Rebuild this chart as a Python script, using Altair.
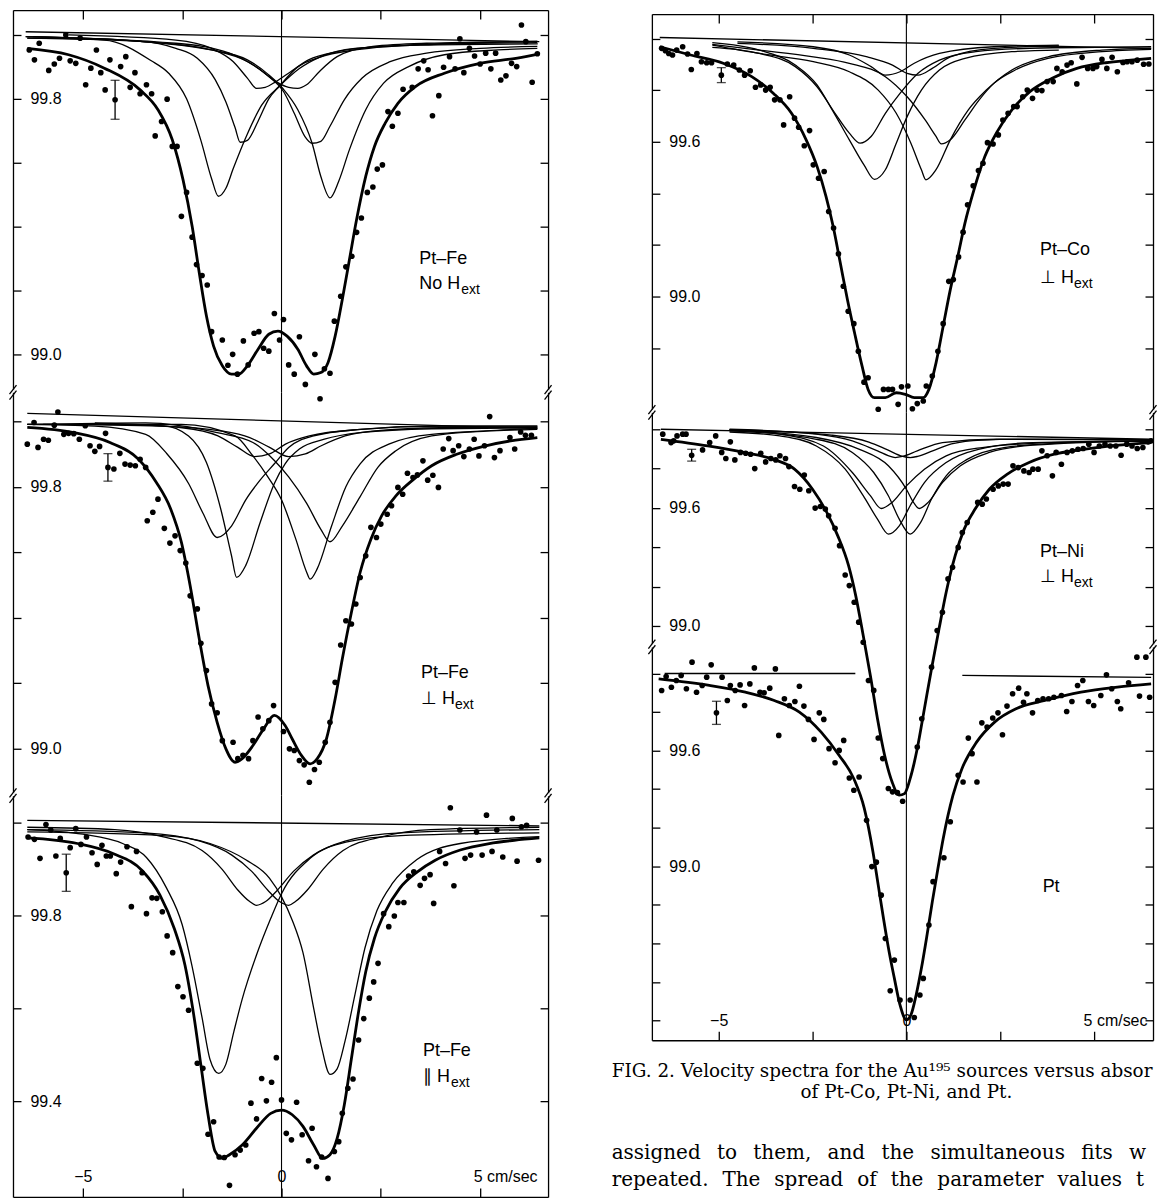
import altair as alt
import pandas as pd

# ---------------- shared axis values ----------------
X_TICKS = [-5, -2.5, 0, 2.5, 5]
X_LABELS = {-5: "−5", 0: "0", 5: "5 cm/sec"}

# ---------------- Pt-Fe, no H_ext (left, top) ----------------
FE0_DOTS = [(-6.35,99.953),(-6.22,99.922),(-6.10,99.974),(-5.86,99.889),(-5.72,99.909),(-5.59,99.927),(-5.43,100.0),(-5.32,99.919),(-5.18,99.911),(-5.07,99.990),(-4.93,99.844),(-4.80,99.896),(-4.66,99.953),(-4.55,99.882),(-4.44,99.828),(-4.32,99.922),(-4.05,99.901),(-3.92,99.932),(-3.81,99.836),(-3.69,99.882),(-3.56,99.816),(-3.40,99.844),(-3.27,99.816),(-3.18,99.684),(-3.02,99.729),(-2.88,99.799),(-2.75,99.651),(-2.63,99.651),(-2.52,99.432),(-2.39,99.507),(-2.25,99.367),(-2.14,99.281),(-2.00,99.247),(-1.87,99.217),(-1.76,99.071),(-1.49,99.045),(-1.35,98.966),(-1.23,99.000),(-1.11,98.938),(-0.96,99.042),(-0.84,98.967),(-0.69,99.066),(-0.57,99.071),(-0.45,99.019),(-0.32,99.010),(-0.18,99.128),(-0.05,99.045),(0.05,99.109),(0.18,98.967),(0.32,98.938),(0.45,99.055),(0.60,98.906),(0.84,99.000),(0.97,98.861),(1.08,98.955),(1.22,98.941),(1.33,99.104),(1.49,99.182),(1.62,99.274),(1.77,99.307),(1.89,99.382),(2.01,99.427),(2.16,99.507),(2.30,99.524),(2.41,99.580),(2.54,99.593),(2.68,99.760),(2.79,99.714),(2.93,99.755),(3.06,99.830),(3.29,99.836),(3.44,99.894),(3.58,99.919),(3.69,99.891),(3.80,99.747),(3.96,99.810),(4.08,99.899),(4.23,99.932),(4.37,99.894),(4.49,99.988),(4.59,99.882),(4.73,99.958),(4.86,99.934),(5.00,99.909),(5.14,99.943),(5.27,99.894),(5.39,99.943),(5.52,99.859),(5.65,99.872),(5.79,99.911),(5.92,99.901),(6.04,100.031),(6.15,99.979),(6.31,99.852),(6.44,99.941)]
FE0_FIT = [(-6.40,99.958),(-5.36,99.938),(-4.46,99.896),(-3.56,99.828),(-3.11,99.766),(-2.75,99.672),(-2.48,99.547),(-2.25,99.401),(-2.07,99.255),(-1.89,99.120),(-1.71,99.026),(-1.49,98.964),(-1.26,98.938),(-1.08,98.938),(-0.86,98.964),(-0.59,99.016),(-0.32,99.063),(-0.09,99.073),(0.14,99.057),(0.41,99.016),(0.63,98.964),(0.81,98.938),(0.99,98.943),(1.17,98.974),(1.35,99.057),(1.53,99.172),(1.71,99.297),(1.89,99.422),(2.12,99.557),(2.34,99.651),(2.61,99.724),(2.93,99.786),(3.38,99.839),(4.10,99.880),(5.00,99.911),(5.90,99.927),(6.49,99.941)]
FE0_A_L = [(-6.40,99.990),(-4.46,99.984),(-3.29,99.920),(-2.84,99.880),(-2.39,99.800),(-2.03,99.670),(-1.76,99.550),(-1.59,99.495),(-1.40,99.520),(-1.22,99.580),(-0.86,99.690),(-0.50,99.780),(-0.05,99.840),(0.45,99.895),(0.95,99.930),(1.85,99.958),(3.50,99.968),(6.45,99.972)]
FE0_B_L = [(-6.40,99.990),(-3.56,99.980),(-2.66,99.958),(-2.12,99.927),(-1.67,99.860),(-1.40,99.790),(-1.17,99.710),(-1.04,99.664),(-0.86,99.670),(-0.59,99.730),(-0.32,99.800),(-0.05,99.840),(0.41,99.900),(0.95,99.930),(1.85,99.953),(3.65,99.970),(6.44,99.976)]
FE0_C_L = [(-5.36,100.0),(-2.66,99.984),(-1.76,99.958),(-1.22,99.917),(-0.86,99.865),(-0.63,99.833),(-0.41,99.836),(-0.14,99.854),(0.23,99.885),(0.68,99.922),(1.40,99.948),(2.75,99.966),(6.44,99.980)]
FE0_C_R = [(-6.44,99.995),(-2.66,99.974),(-1.31,99.943),(-0.59,99.896),(-0.14,99.854),(0.18,99.836),(0.41,99.833),(0.63,99.844),(0.95,99.885),(1.40,99.932),(2.30,99.964),(3.65,99.974),(6.44,99.980)]
FE0_B_R = [(-6.44,99.995),(-3.56,99.980),(-1.76,99.953),(-0.86,99.917),(-0.32,99.870),(0.05,99.823),(0.32,99.755),(0.59,99.682),(0.77,99.661),(0.99,99.667),(1.22,99.714),(1.58,99.797),(2.03,99.865),(2.75,99.917),(3.65,99.943),(5.00,99.958),(6.44,99.964)]
FE0_A_R = [(-6.26,99.995),(-3.56,99.980),(-1.76,99.953),(-0.86,99.922),(-0.32,99.875),(0.05,99.830),(0.41,99.766),(0.77,99.661),(0.99,99.557),(1.22,99.490),(1.44,99.542),(1.71,99.641),(2.12,99.766),(2.57,99.849),(3.20,99.901),(4.10,99.938),(5.45,99.953),(6.44,99.958)]
FE0_BASE = [(-6.44,100.010),(6.49,99.979)]
FE0_ERR = (-4.19, 99.797, 0.061)

# ---------------- Pt-Fe, perpendicular H_ext (left, middle) ----------------
FE1_DOTS = [(-6.40,99.930),(-6.23,99.996),(-6.13,99.920),(-5.99,99.945),(-5.87,99.942),(-5.72,99.988),(-5.63,100.028),(-5.48,99.960),(-5.36,99.963),(-5.23,99.962),(-5.09,99.945),(-4.94,99.986),(-4.82,99.925),(-4.70,99.908),(-4.58,99.923),(-4.43,99.963),(-4.22,99.854),(-4.07,99.902),(-3.94,99.869),(-3.81,99.866),(-3.68,99.864),(-3.56,99.884),(-3.42,99.859),(-3.38,99.696),(-3.24,99.722),(-3.11,99.762),(-2.95,99.673),(-2.81,99.628),(-2.68,99.650),(-2.55,99.605),(-2.41,99.567),(-2.30,99.467),(-2.12,99.427),(-2.03,99.322),(-1.89,99.239),(-1.76,99.137),(-1.62,99.110),(-1.49,99.025),(-1.22,99.020),(-1.10,98.970),(-0.97,98.980),(-0.83,98.970),(-0.72,99.025),(-0.59,99.097),(-0.47,99.061),(-0.32,99.086),(-0.20,99.132),(0.05,99.053),(0.20,99.000),(0.32,98.995),(0.45,98.964),(0.57,98.951),(0.70,98.898),(0.83,98.937),(0.95,98.959),(1.10,99.020),(1.22,99.081),(1.35,99.203),(1.49,99.317),(1.62,99.391),(1.76,99.381),(1.87,99.442),(1.98,99.523),(2.12,99.589),(2.25,99.676),(2.39,99.645),(2.50,99.686),(2.66,99.716),(2.77,99.742),(2.93,99.798),(3.05,99.777),(3.17,99.841),(3.31,99.828),(3.42,99.836),(3.56,99.879),(3.68,99.820),(3.81,99.835),(3.95,99.798),(4.07,99.915),(4.21,99.947),(4.32,99.910),(4.46,99.925),(4.59,99.892),(4.73,99.915),(4.85,99.945),(4.97,99.894),(5.11,99.925),(5.24,100.014),(5.36,99.889),(5.50,99.910),(5.75,99.950),(5.87,99.915),(6.02,99.967),(6.14,99.957),(6.29,99.957)]
FE1_FIT = [(-6.40,99.981),(-5.23,99.965),(-4.32,99.935),(-3.60,99.884),(-3.15,99.813),(-2.79,99.732),(-2.52,99.630),(-2.30,99.498),(-2.07,99.335),(-1.85,99.193),(-1.62,99.081),(-1.40,99.000),(-1.17,98.959),(-0.99,98.970),(-0.72,99.010),(-0.45,99.061),(-0.18,99.102),(0.09,99.071),(0.27,99.030),(0.50,98.980),(0.72,98.954),(0.90,98.970),(1.13,99.030),(1.35,99.152),(1.53,99.274),(1.76,99.417),(1.98,99.539),(2.25,99.640),(2.52,99.711),(2.88,99.772),(3.33,99.823),(3.78,99.864),(4.41,99.899),(5.14,99.925),(5.77,99.940),(6.44,99.950)]
FE1_W_L = [(-6.40,99.990),(-4.70,99.985),(-3.42,99.960),(-2.88,99.900),(-2.34,99.810),(-1.98,99.720),(-1.62,99.645),(-1.26,99.680),(-0.90,99.760),(-0.54,99.820),(-0.18,99.870),(0.18,99.920),(0.81,99.955),(1.98,99.975),(3.78,99.985),(6.44,99.985)]
FE1_D_L = [(-4.70,99.990),(-2.97,99.986),(-2.34,99.955),(-1.89,99.874),(-1.53,99.732),(-1.26,99.590),(-1.13,99.523),(-0.90,99.560),(-0.54,99.690),(-0.18,99.810),(0.09,99.870),(0.45,99.915),(1.08,99.945),(1.98,99.965),(3.78,99.977),(6.44,99.980)]
FE1_D_R = [(-6.40,99.990),(-2.52,99.990),(-1.17,99.955),(-0.72,99.894),(-0.36,99.833),(0.00,99.760),(0.36,99.640),(0.63,99.540),(0.72,99.518),(0.90,99.550),(1.26,99.680),(1.62,99.800),(1.98,99.870),(2.70,99.930),(3.78,99.960),(6.44,99.975)]
FE1_W_R = [(-6.40,99.990),(-3.42,99.995),(-1.62,99.965),(-0.72,99.935),(-0.18,99.880),(0.18,99.830),(0.63,99.750),(0.99,99.670),(1.22,99.632),(1.53,99.680),(1.98,99.770),(2.43,99.860),(2.88,99.910),(3.78,99.955),(5.14,99.970),(6.44,99.978)]
FE1_S_L = [(-4.70,99.995),(-2.50,99.980),(-1.60,99.955),(-1.10,99.920),(-0.68,99.892),(-0.30,99.900),(0.10,99.930),(0.70,99.955),(2.00,99.975),(4.00,99.985),(6.44,99.985)]
FE1_S_R = [(-6.00,99.990),(-3.00,99.985),(-1.50,99.970),(-0.80,99.950),(-0.30,99.920),(0.18,99.892),(0.60,99.900),(1.00,99.925),(1.60,99.955),(2.50,99.972),(4.00,99.980),(6.44,99.982)]
FE1_BASE = [(-6.40,100.024),(6.44,99.978)]
FE1_ERR = (-4.37, 99.859, 0.042)

# ---------------- Pt-Fe, parallel H_ext (left, bottom) ----------------
FE2_DOTS = [(-6.38,99.969),(-6.22,99.964),(-6.08,99.923),(-5.93,99.996),(-5.81,99.984),(-5.68,99.928),(-5.57,99.966),(-5.32,99.946),(-5.18,99.987),(-5.05,99.953),(-4.91,99.969),(-4.77,99.935),(-4.64,99.910),(-4.52,99.951),(-4.41,99.928),(-4.31,99.928),(-4.16,99.890),(-4.05,99.915),(-3.89,99.948),(-3.78,99.819),(-3.65,99.938),(-3.51,99.892),(-3.40,99.804),(-3.26,99.838),(-3.14,99.837),(-3.00,99.808),(-2.88,99.756),(-2.74,99.720),(-2.61,99.647),(-2.48,99.625),(-2.34,99.596),(-2.12,99.482),(-1.98,99.471),(-1.85,99.329),(-1.71,99.356),(-1.57,99.280),(-1.44,99.279),(-1.31,99.219),(-1.17,99.285),(-1.04,99.295),(-0.90,99.306),(-0.77,99.396),(-0.63,99.362),(-0.50,99.449),(-0.38,99.401),(-0.25,99.441),(-0.13,99.494),(0.00,99.403),(0.12,99.331),(0.25,99.317),(0.38,99.398),(0.52,99.328),(0.68,99.272),(0.77,99.342),(0.88,99.259),(1.01,99.280),(1.17,99.234),(1.33,99.292),(1.44,99.313),(1.53,99.374),(1.67,99.428),(1.80,99.448),(1.94,99.532),(2.07,99.578),(2.21,99.622),(2.32,99.657),(2.43,99.697),(2.57,99.804),(2.70,99.776),(2.84,99.799),(2.93,99.828),(3.08,99.828),(3.20,99.885),(3.33,99.894),(3.49,99.865),(3.60,99.880),(3.74,99.888),(3.83,99.826),(3.98,99.938),(4.13,99.912),(4.25,100.032),(4.34,99.864),(4.49,99.984),(4.62,99.923),(4.76,99.930),(4.91,99.980),(5.05,99.930),(5.16,100.016),(5.30,99.938),(5.42,99.984),(5.57,99.926),(5.81,100.009),(5.93,99.917),(6.04,99.991),(6.17,99.994),(6.47,99.919)]
FE2_FIT = [(-6.40,99.967),(-5.14,99.955),(-4.23,99.933),(-3.51,99.897),(-3.06,99.844),(-2.70,99.772),(-2.43,99.693),(-2.21,99.586),(-2.03,99.478),(-1.85,99.371),(-1.67,99.292),(-1.49,99.277),(-1.31,99.285),(-0.99,99.306),(-0.63,99.342),(-0.27,99.374),(0.00,99.381),(0.27,99.371),(0.54,99.346),(0.81,99.306),(1.04,99.277),(1.22,99.285),(1.40,99.320),(1.58,99.392),(1.76,99.492),(1.94,99.593),(2.12,99.679),(2.34,99.751),(2.61,99.808),(2.97,99.858),(3.42,99.894),(3.87,99.919),(4.50,99.941),(5.23,99.955),(5.86,99.962),(6.49,99.967)]
FE2_A_L = [(-6.40,99.985),(-5.00,99.975),(-4.00,99.955),(-3.40,99.925),(-2.90,99.860),(-2.50,99.780),(-2.25,99.690),(-2.00,99.580),(-1.80,99.490),(-1.58,99.460),(-1.40,99.480),(-1.20,99.550),(-0.99,99.620),(-0.63,99.715),(-0.27,99.794),(0.00,99.847),(0.72,99.923),(1.62,99.958),(3.00,99.972),(6.49,99.978)]
FE2_A_R = [(-6.40,99.980),(-3.00,99.972),(-1.80,99.955),(-0.90,99.920),(-0.30,99.880),(0.00,99.840),(0.27,99.790),(0.54,99.720),(0.81,99.600),(1.00,99.520),(1.22,99.458),(1.40,99.470),(1.60,99.530),(1.85,99.630),(2.10,99.730),(2.40,99.810),(2.80,99.870),(3.40,99.920),(4.50,99.955),(6.49,99.970)]
FE2_B_L = [(-6.40,99.990),(-4.20,99.985),(-3.00,99.970),(-2.00,99.940),(-1.50,99.900),(-1.10,99.855),(-0.80,99.830),(-0.63,99.822),(-0.40,99.830),(-0.10,99.855),(0.30,99.895),(0.80,99.930),(1.60,99.960),(3.00,99.978),(6.49,99.985)]
FE2_B_R = [(-6.40,99.985),(-3.45,99.978),(-2.05,99.960),(-1.25,99.930),(-0.75,99.895),(-0.35,99.855),(-0.05,99.830),(0.18,99.822),(0.35,99.830),(0.65,99.855),(1.05,99.900),(1.55,99.940),(2.55,99.970),(3.75,99.985),(6.49,99.990)]
FE2_BASE = [(-6.40,100.005),(6.49,99.993)]
FE2_ERR = (-5.42, 99.892, 0.040)

# ---------------- Pt-Co, perpendicular H_ext (right, top) ----------------
CO_DOTS = [(-6.52,99.963),(-6.42,99.954),(-6.33,99.943),(-6.23,99.937),(-6.12,99.956),(-5.96,99.969),(-5.83,99.941),(-5.73,99.881),(-5.58,99.943),(-5.46,99.911),(-5.32,99.907),(-5.19,99.907),(-4.77,99.902),(-4.60,99.898),(-4.45,99.879),(-4.31,99.859),(-4.16,99.876),(-4.02,99.812),(-3.88,99.821),(-3.75,99.801),(-3.63,99.812),(-3.51,99.763),(-3.37,99.763),(-3.27,99.666),(-3.11,99.775),(-2.98,99.692),(-2.87,99.657),(-2.72,99.585),(-2.58,99.644),(-2.48,99.511),(-2.34,99.459),(-2.19,99.485),(-2.07,99.330),(-1.94,99.266),(-1.81,99.166),(-1.68,99.040),(-1.55,98.943),(-1.40,98.895),(-1.28,98.788),(-1.13,98.668),(-1.02,98.685),(-0.75,98.563),(-0.61,98.640),(-0.48,98.640),(-0.37,98.640),(-0.22,98.582),(-0.13,98.650),(0.04,98.653),(0.16,98.565),(0.29,98.585),(0.45,98.595),(0.53,98.653),(0.69,98.692),(0.84,98.788),(0.98,98.895),(1.13,99.059),(1.25,99.066),(1.39,99.154),(1.51,99.250),(1.63,99.356),(1.78,99.430),(1.92,99.489),(2.04,99.517),(2.16,99.597),(2.31,99.592),(2.45,99.627),(2.57,99.685),(2.71,99.711),(2.86,99.737),(2.95,99.737),(3.10,99.775),(3.22,99.801),(3.36,99.769),(3.48,99.801),(3.61,99.799),(3.75,99.834),(3.91,99.834),(4.01,99.885),(4.15,99.872),(4.28,99.898),(4.39,99.907),(4.54,99.825),(4.68,99.928),(4.83,99.885),(4.97,99.885),(5.07,99.892),(5.21,99.920),(5.34,99.885),(5.48,99.928),(5.62,99.872),(5.77,99.908),(5.88,99.911),(6.01,99.911),(6.15,99.917),(6.32,99.901),(6.46,99.902)]
CO_FIT = [(-6.57,99.969),(-5.75,99.937),(-4.88,99.905),(-4.12,99.853),(-3.54,99.788),(-3.06,99.711),(-2.67,99.608),(-2.38,99.505),(-2.14,99.388),(-1.95,99.272),(-1.76,99.130),(-1.57,98.988),(-1.38,98.859),(-1.18,98.730),(-1.02,98.640),(-0.85,98.608),(-0.56,98.608),(-0.27,98.627),(-0.03,98.621),(0.21,98.608),(0.45,98.608),(0.60,98.640),(0.79,98.743),(0.98,98.885),(1.17,99.027),(1.37,99.156),(1.56,99.285),(1.80,99.414),(2.09,99.543),(2.42,99.640),(2.81,99.724),(3.29,99.795),(3.87,99.846),(4.54,99.885),(5.31,99.907),(5.98,99.917),(6.52,99.924)]
CO_A_L = [(-5.17,99.985),(-3.92,99.956),(-2.96,99.898),(-2.38,99.821),(-2.00,99.730),(-1.52,99.608),(-1.13,99.511),(-0.85,99.455),(-0.56,99.492),(-0.27,99.595),(0.02,99.698),(0.40,99.801),(0.88,99.879),(1.56,99.924),(2.81,99.950),(4.06,99.956)]
CO_B_L = [(-5.17,99.967),(-3.92,99.943),(-2.96,99.892),(-2.38,99.814),(-1.90,99.711),(-1.52,99.634),(-1.23,99.595),(-0.94,99.621),(-0.56,99.711),(-0.17,99.788),(0.31,99.866),(0.88,99.917),(1.85,99.950),(3.29,99.963),(6.52,99.969)]
CO_A_R = [(-5.17,99.975),(-3.92,99.943),(-2.48,99.911),(-1.52,99.872),(-0.75,99.801),(-0.27,99.711),(0.12,99.595),(0.40,99.492),(0.52,99.453),(0.79,99.492),(1.17,99.608),(1.65,99.724),(2.13,99.801),(2.81,99.879),(3.77,99.930),(5.21,99.956),(6.52,99.963)]
CO_B_R = [(-5.17,99.978),(-3.92,99.956),(-2.48,99.930),(-1.52,99.905),(-0.56,99.853),(0.02,99.775),(0.50,99.685),(0.79,99.621),(0.93,99.592),(1.17,99.608),(1.56,99.685),(1.94,99.763),(2.33,99.827),(2.90,99.879),(3.77,99.924),(5.21,99.950),(6.52,99.959)]
CO_C_L = [(-4.50,99.988),(-2.48,99.969),(-1.52,99.937),(-0.94,99.892),(-0.56,99.859),(-0.17,99.872),(0.21,99.905),(0.88,99.943),(2.33,99.969),(4.06,99.975)]
CO_C_R = [(-4.50,99.982),(-2.48,99.963),(-1.04,99.930),(-0.37,99.898),(0.02,99.866),(0.31,99.859),(0.69,99.885),(1.17,99.930),(2.33,99.963),(4.06,99.972)]
CO_BASE = [(-6.57,100.005),(6.52,99.963)]
CO_ERR = (-4.93, 99.859, 0.029)

# ---------------- Pt-Ni, perpendicular H_ext (right, middle) ----------------
NI_DOTS = [(-6.49,99.975),(-6.27,99.932),(-6.20,99.941),(-6.11,99.966),(-5.96,99.975),(-5.87,99.975),(-5.43,99.895),(-5.24,99.932),(-5.08,99.966),(-4.92,99.882),(-4.81,99.851),(-4.69,99.936),(-4.57,99.844),(-4.42,99.882),(-4.28,99.878),(-4.15,99.873),(-4.04,99.800),(-3.88,99.878),(-3.75,99.834),(-3.61,99.851),(-3.48,99.844),(-3.37,99.865),(-3.22,99.851),(-3.13,99.810),(-2.98,99.709),(-2.84,99.695),(-2.72,99.767),(-2.60,99.687),(-2.43,99.599),(-2.29,99.607),(-2.16,99.594),(-2.07,99.560),(-1.90,99.496),(-1.78,99.408),(-1.63,99.259),(-1.52,99.205),(-1.39,99.120),(-1.27,99.019),(-1.15,98.917),(-1.01,98.722),(-0.87,98.672),(-0.75,98.430),(-0.63,98.325),(-0.48,98.173),(-0.37,98.156),(-0.24,98.152),(-0.10,98.108),(0.29,98.384),(0.41,98.528),(0.67,98.790),(0.82,98.976),(0.96,99.069),(1.11,99.239),(1.23,99.298),(1.38,99.399),(1.49,99.475),(1.62,99.526),(1.90,99.628),(2.02,99.619),(2.13,99.645),(2.31,99.695),(2.45,99.712),(2.58,99.721),(2.71,99.721),(2.84,99.814),(2.98,99.805),(3.13,99.788),(3.27,99.780),(3.37,99.797),(3.51,99.797),(3.61,99.890),(3.75,99.865),(3.89,99.763),(3.99,99.882),(4.13,99.822),(4.28,99.882),(4.42,99.890),(4.57,99.898),(4.71,99.902),(4.86,99.924),(5.00,99.882),(5.14,99.915),(5.29,99.924),(5.43,99.915),(5.58,99.915),(5.72,99.868),(5.87,99.924),(6.01,99.915),(6.15,99.902),(6.30,99.907),(6.44,99.936),(6.52,99.941)]
NI_FIT = [(-6.54,99.949),(-5.29,99.915),(-4.33,99.882),(-3.56,99.848),(-2.98,99.797),(-2.50,99.695),(-2.12,99.577),(-1.83,99.459),(-1.54,99.306),(-1.35,99.154),(-1.15,98.951),(-0.96,98.748),(-0.77,98.528),(-0.58,98.342),(-0.38,98.206),(-0.19,98.139),(-0.05,98.147),(0.10,98.223),(0.29,98.376),(0.48,98.579),(0.67,98.782),(0.87,98.985),(1.06,99.171),(1.30,99.357),(1.54,99.492),(1.83,99.594),(2.21,99.695),(2.69,99.772),(3.27,99.831),(3.94,99.873),(4.62,99.895),(5.29,99.912),(5.96,99.924),(6.52,99.932)]
NI_D_L = [(-4.71,99.986),(-3.37,99.966),(-2.40,99.915),(-1.63,99.797),(-1.15,99.662),(-0.77,99.543),(-0.48,99.467),(-0.19,99.509),(0.10,99.611),(0.48,99.729),(1.06,99.831),(1.92,99.898),(3.37,99.932),(6.52,99.941)]
NI_D_R = [(-4.71,99.992),(-2.40,99.949),(-1.44,99.882),(-0.87,99.780),(-0.48,99.662),(-0.19,99.543),(0.10,99.467),(0.38,99.526),(0.67,99.645),(1.06,99.763),(1.63,99.848),(2.60,99.907),(4.33,99.932),(6.52,99.941)]
NI_M_L = [(-4.71,99.997),(-3.37,99.975),(-2.21,99.915),(-1.44,99.780),(-0.96,99.662),(-0.67,99.597),(-0.38,99.628),(0.00,99.712),(0.48,99.797),(1.06,99.865),(2.02,99.907),(3.85,99.932),(6.52,99.941)]
NI_M_R = [(-4.71,99.997),(-2.40,99.958),(-1.25,99.898),(-0.48,99.814),(0.00,99.695),(0.19,99.628),(0.34,99.597),(0.58,99.628),(0.96,99.729),(1.44,99.814),(2.21,99.882),(3.37,99.919),(6.52,99.941)]
NI_S_L = [(-4.71,100.0),(-2.40,99.975),(-1.44,99.941),(-0.77,99.890),(-0.38,99.859),(-0.30,99.856),(-0.10,99.862),(0.29,99.890),(0.96,99.932),(2.40,99.949),(6.52,99.946)]
NI_S_R = [(-4.71,99.998),(-2.00,99.970),(-1.00,99.935),(-0.50,99.895),(-0.10,99.862),(0.10,99.856),(0.30,99.862),(0.70,99.890),(1.20,99.925),(2.00,99.945),(3.50,99.950),(6.52,99.946)]
NI_BASE = [(-6.54,100.0),(6.52,99.949)]
NI_ERR = (-5.72, 99.868, 0.030)

# ---------------- Pt (right, bottom) ----------------
PT_DOTS = [(-6.52,99.912),(-6.40,99.984),(-6.26,99.929),(-6.13,99.964),(-6.00,99.990),(-5.86,99.921),(-5.71,100.059),(-5.59,99.903),(-5.44,99.938),(-5.32,99.981),(-5.20,100.045),(-4.91,99.981),(-4.77,99.860),(-4.69,99.938),(-4.56,99.912),(-4.43,99.941),(-4.31,99.834),(-4.17,99.946),(-4.05,100.029),(-3.90,99.903),(-3.79,99.900),(-3.64,99.924),(-3.49,100.024),(-3.40,99.679),(-3.25,99.869),(-3.12,99.834),(-2.97,99.855),(-2.85,99.934),(-2.73,99.831),(-2.61,99.762),(-2.46,99.658),(-2.32,99.796),(-2.20,99.762),(-2.06,99.610),(-1.90,99.537),(-1.79,99.601),(-1.67,99.653),(-1.52,99.458),(-1.40,99.394),(-1.26,99.463),(-1.06,99.238),(-0.92,98.998),(-0.80,99.021),(-0.67,98.850),(-0.56,98.625),(-0.43,98.354),(-0.32,98.513),(-0.17,98.306),(0.10,98.306),(0.21,98.215),(0.36,98.332),(0.45,98.418),(0.60,98.695),(0.71,98.920),(1.00,99.044),(1.17,99.231),(1.38,99.472),(1.51,99.437),(1.65,99.665),(1.75,99.584),(1.88,99.437),(2.01,99.744),(2.15,99.722),(2.30,99.769),(2.44,99.796),(2.56,99.682),(2.68,99.831),(2.83,99.895),(2.99,99.924),(3.12,99.851),(3.21,99.895),(3.36,99.796),(3.50,99.860),(3.64,99.869),(3.79,99.869),(3.93,99.877),(4.13,99.886),(4.27,99.803),(4.41,99.855),(4.56,99.938),(4.70,99.964),(4.85,99.855),(4.99,99.834),(5.18,99.886),(5.33,99.993),(5.47,99.921),(5.62,99.855),(5.71,99.817),(5.92,99.952),(6.14,100.085),(6.21,99.883),(6.38,100.085),(6.48,99.877)]
PT_FIT = [(-6.60,99.972),(-5.25,99.938),(-4.29,99.903),(-3.52,99.860),(-2.85,99.800),(-2.27,99.696),(-1.79,99.575),(-1.40,99.454),(-1.12,99.299),(-0.89,99.074),(-0.75,98.902),(-0.61,98.729),(-0.46,98.556),(-0.32,98.418),(-0.17,98.280),(0.00,98.203),(0.12,98.228),(0.26,98.332),(0.40,98.470),(0.55,98.643),(0.69,98.815),(0.84,98.988),(0.98,99.143),(1.24,99.368),(1.48,99.506),(1.87,99.644),(2.35,99.748),(2.92,99.817),(3.69,99.860),(4.65,99.903),(5.62,99.929),(6.52,99.946)]
PT_BASE_L = [(-6.44,100.0),(-1.36,100.0)]
PT_BASE_R = [(1.49,99.990),(6.52,99.980)]
PT_ERR = (-5.06, 99.796, 0.060)

# ---------------- text ----------------
CAPTION_1 = "FIG. 2. Velocity spectra for the Au¹⁹⁵ sources versus absor"
CAPTION_2 = "of Pt-Co, Pt-Ni, and Pt."
BODY_1 = "assigned\u2002 to\u2002 them,\u2002 and\u2002 the\u2002 simultaneous\u2002 fits\u2002 w"
BODY_2 = "repeated.\u2002\u2009The\u2002\u2009spread\u2002\u2009of\u2002\u2009the\u2002\u2009parameter\u2002\u2009values\u2002\u2009t"

# ---------------- layout constants ----------------
LEFT_W, RIGHT_W = 536, 502
LEFT_X, RIGHT_X = [-6.76, 6.71], [-6.78, 6.57]
TEXT_X = -7.85          # left start of caption/body lines, in the right column's velocity units
BRK_A = 3.5             # half-width (px) of the axis-break slashes


def pts_df(pairs):
    return pd.DataFrame(pairs, columns=["v", "p"])


def curves_df(curves):
    rows = []
    for i, c in enumerate(curves):
        for v, p in c:
            rows.append({"v": v, "p": p, "c": i})
    return pd.DataFrame(rows, columns=["v", "p", "c"])


def label_expr(mapping):
    expr = "''"
    for k, t in reversed(list(mapping.items())):
        expr = f"abs(datum.value - ({k})) < 0.001 ? '{t}' : {expr}"
    return expr


def panel(W, H, xdom, ydom, dots, fit, comps, bases, err, yticks, ylabels,
          lab, xaxis_mode=None, breaks=False, unit_shift=-5):
    xs = alt.Scale(domain=xdom, nice=False, zero=False)
    ys = alt.Scale(domain=ydom, nice=False, zero=False)

    if xaxis_mode == "top":
        xaxis = alt.Axis(orient="bottom", offset=-H, values=X_TICKS, labels=False,
                         tickSize=9, domain=True, grid=False, title=None)
    elif xaxis_mode == "bottom":
        xaxis = alt.Axis(orient="top", offset=-H, values=X_TICKS,
                         labelExpr=label_expr(X_LABELS), labelPadding=3, tickSize=9,
                         labelFlush=False, labelOverlap=False,
                         labelAlign={"condition": {"test": "datum.value == 5", "value": "left"}, "value": "center"},
                         labelOffset={"condition": {"test": "datum.value == 5", "value": unit_shift}, "value": 0},
                         domain=True, grid=False, title=None)
    else:
        xaxis = None

    # the shared x axis is given identically to every layer so that it is kept
    def X(field="v"):
        return alt.X(f"{field}:Q", scale=xs, axis=xaxis, title=None)

    def Y(field="p", axis=None):
        return alt.Y(f"{field}:Q", scale=ys, axis=axis, title=None)

    y_main = alt.Axis(orient="right", offset=-W, values=yticks, labelExpr=label_expr(ylabels),
                      tickSize=8, labelPadding=9, domain=True, grid=False,
                      labelOverlap=False, labelFlush=False, labelAlign="left")
    y_mirror = alt.Axis(orient="left", offset=-W, values=yticks, labels=False,
                        tickSize=8, domain=True, grid=False)

    layers = []
    layers.append(alt.Chart(pd.DataFrame({"v": [0.0]})).mark_rule(color="black", strokeWidth=1.1)
                  .encode(x=X()))
    layers.append(alt.Chart(curves_df(bases)).mark_line(color="black", strokeWidth=1.3)
                  .encode(x=X(), y=Y(), detail="c:N"))
    if comps:
        layers.append(alt.Chart(curves_df(comps)).mark_line(color="black", strokeWidth=1.3, interpolate="monotone")
                      .encode(x=X(), y=Y(), detail="c:N"))
    layers.append(alt.Chart(pts_df(fit)).mark_line(color="black", strokeWidth=2.8, interpolate="monotone")
                  .encode(x=X(), y=Y(axis=y_mirror)))
    layers.append(alt.Chart(pts_df(dots + [err[:2]])).mark_circle(color="black", size=32, opacity=1)
                  .encode(x=X(), y=Y(axis=y_main)))
    ev, ep, eh = err
    err_df = pd.DataFrame({"v": [ev], "lo": [ep - eh], "hi": [ep + eh]})
    layers.append(alt.Chart(err_df).mark_rule(color="black", strokeWidth=1.3)
                  .encode(x=X(), y=Y("lo"), y2=alt.Y2("hi")))
    cap_df = pd.DataFrame({"v": [ev, ev], "p": [ep - eh, ep + eh]})
    layers.append(alt.Chart(cap_df).mark_tick(color="black", orient="horizontal", size=9, thickness=1.3)
                  .encode(x=X(), y=Y()))

    # panel label
    t1, t2, lv, lp1, lp2, sub_dx = lab
    texts = pd.DataFrame({"v": [lv] + ([lv] if t2 else []),
                          "p": [lp1] + ([lp2] if t2 else []),
                          "t": [t1] + ([t2] if t2 else [])})
    layers.append(alt.Chart(texts).mark_text(align="left", baseline="middle", font="Liberation Sans",
                                             fontSize=18, color="black")
                  .encode(x=X(), y=Y(), text="t:N"))
    if t2:
        layers.append(alt.Chart(pd.DataFrame({"v": [lv], "p": [lp2], "t": ["ext"]}))
                      .mark_text(align="left", baseline="middle", font="Liberation Sans", fontSize=14,
                                 color="black", dx=sub_dx, dy=6)
                      .encode(x=X(), y=Y(), text="t:N"))
    if breaks:
        # axis-break marks "//" across both frame edges at the bottom of this panel
        kx = W / (xdom[1] - xdom[0])
        ky = H / (ydom[1] - ydom[0])
        a, b, g = BRK_A / kx, 4.5 / ky, 2.8 / ky
        gap_df = pd.DataFrame({"v": list(xdom), "lo": [ydom[0] - g] * 2, "hi": [ydom[0] + g] * 2})
        layers.append(alt.Chart(gap_df).mark_rule(color="white", strokeWidth=3)
                      .encode(x=X(), y=Y("lo"), y2=alt.Y2("hi")))
        rows = []
        for x0 in xdom:
            for s in (-1, 1):
                yc = ydom[0] + s * g
                rows.append({"v": x0 - a, "p": yc - b, "v2": x0 + a, "p2": yc + b})
        layers.append(alt.Chart(pd.DataFrame(rows)).mark_rule(color="black", strokeWidth=1.3)
                      .encode(x=X(), y=Y(), x2=alt.X2("v2"), y2=alt.Y2("p2")))
    return alt.layer(*layers).resolve_scale(y="independent").properties(width=W, height=H)


P1 = panel(LEFT_W, 383, LEFT_X, [98.881, 100.078], FE0_DOTS, FE0_FIT,
           [FE0_A_L, FE0_B_L, FE0_C_L, FE0_C_R, FE0_B_R, FE0_A_R], [FE0_BASE], FE0_ERR,
           [100, 99.8, 99.6, 99.4, 99.2, 99.0], {99.8: "99.8", 99.0: "99.0"},
           ("Pt–Fe", "No H", 3.47, 99.297, 99.219, 42), "top", True)
P2 = panel(LEFT_W, 404, LEFT_X, [98.857, 100.088], FE1_DOTS, FE1_FIT,
           [FE1_W_L, FE1_D_L, FE1_D_R, FE1_W_R, FE1_S_L, FE1_S_R], [FE1_BASE], FE1_ERR,
           [100, 99.8, 99.6, 99.4, 99.2, 99.0], {99.8: "99.8", 99.0: "99.0"},
           ("Pt–Fe", "⊥ H", 3.51, 99.232, 99.152, 34), None, True)
P3 = panel(LEFT_W, 402, LEFT_X, [99.194, 100.058], FE2_DOTS, FE2_FIT,
           [FE2_A_L, FE2_A_R, FE2_B_L, FE2_B_R], [FE2_BASE], FE2_ERR,
           [100, 99.8, 99.6, 99.4], {99.8: "99.8", 99.4: "99.4"},
           ("Pt–Fe", "∥ H", 3.56, 99.509, 99.453, 28), "bottom", False, -7)

Q1 = panel(RIGHT_W, 399, RIGHT_X, [98.551, 100.096], CO_DOTS, CO_FIT,
           [CO_A_L, CO_B_L, CO_A_R, CO_B_R, CO_C_L, CO_C_R], [CO_BASE], CO_ERR,
           [100, 99.8, 99.6, 99.4, 99.2, 99.0, 98.8], {99.6: "99.6", 99.0: "99.0"},
           ("Pt–Co", "⊥ H", 3.56, 99.179, 99.072, 34), "top", True)
Q2 = panel(RIGHT_W, 235, RIGHT_X, [98.893, 100.086], NI_DOTS, NI_FIT,
           [NI_D_L, NI_D_R, NI_M_L, NI_M_R, NI_S_L, NI_S_R], [NI_BASE], NI_ERR,
           [100, 99.8, 99.6, 99.4, 99.2, 99.0], {99.6: "99.6", 99.0: "99.0"},
           ("Pt–Ni", "⊥ H", 3.56, 99.374, 99.247, 34), None, True)
Q3 = panel(RIGHT_W, 394, RIGHT_X, [98.097, 100.138], PT_DOTS, PT_FIT,
           [], [PT_BASE_L, PT_BASE_R], PT_ERR,
           [100, 99.8, 99.6, 99.4, 99.2, 99.0, 98.8, 98.6, 98.4, 98.2], {99.6: "99.6", 99.0: "99.0"},
           ("Pt", None, 3.63, 98.893, None, 0), "bottom", False, -11)

spacer = alt.Chart(pd.DataFrame({"v": [0]})).mark_point(opacity=0, size=1).properties(width=RIGHT_W, height=4)

NOTES_H = 159
nx = alt.Scale(domain=RIGHT_X, nice=False, zero=False)
ny = alt.Scale(domain=[0, NOTES_H], reverse=True, nice=False, zero=False)
note_left = pd.DataFrame({"v": [TEXT_X] * 3, "y": [31, 113, 140],
                          "t": [CAPTION_1, BODY_1, BODY_2], "s": [18.4, 20, 20]})
note_center = pd.DataFrame({"v": [0.0], "y": [52], "t": [CAPTION_2], "s": [18.4]})
notes = alt.layer(
    alt.Chart(note_left).mark_text(align="left", baseline="middle", font="DejaVu Serif", color="black")
    .encode(x=alt.X("v:Q", scale=nx, axis=None), y=alt.Y("y:Q", scale=ny, axis=None),
            text="t:N", size=alt.Size("s:Q", scale=None, legend=None)),
    alt.Chart(note_center).mark_text(align="center", baseline="middle", font="DejaVu Serif", color="black")
    .encode(x=alt.X("v:Q", scale=nx, axis=None), y=alt.Y("y:Q", scale=ny, axis=None),
            text="t:N", size=alt.Size("s:Q", scale=None, legend=None)),
).properties(width=RIGHT_W, height=NOTES_H)

left = alt.vconcat(P1, P2, P3, spacing=0, bounds="flush")
right = alt.vconcat(spacer, Q1, Q2, Q3, notes, spacing=0, bounds="flush")

chart = (
    alt.hconcat(left, right, spacing=58)
    .properties(padding={"left": 0, "top": 0, "right": 0, "bottom": 0}, background="white")
    .configure_view(stroke=None)
    .configure_axis(labelFont="Liberation Sans", labelFontSize=16, labelColor="black",
                    domainColor="black", tickColor="black", domainWidth=1.3, tickWidth=1.3,
                    grid=False)
)

chart.save("out.html", embed_options={"renderer": "svg", "actions": False})
